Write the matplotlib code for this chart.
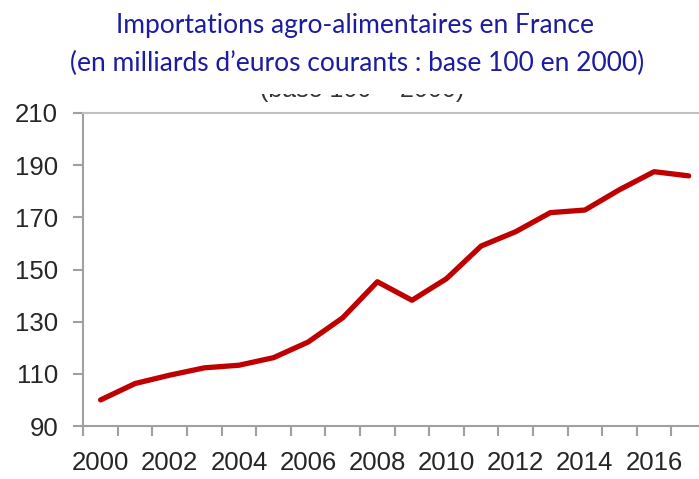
import matplotlib
matplotlib.use('Agg')
import matplotlib.pyplot as plt
from matplotlib.patches import Rectangle

# ---- data ----
years = list(range(2000, 2018))
values = [100, 106.3, 109.5, 112.3, 113.3, 116.2, 122.2, 131.5, 145.3, 138.2,
          146.5, 159.0, 164.5, 171.8, 172.8, 180.6, 187.5, 185.9]
y_ticks = [90, 110, 130, 150, 170, 190, 210]
x_label_years = list(range(2000, 2017, 2))
title_line1 = "Importations agro-alimentaires en France"
title_line2 = "(en milliards d\u2019euros courants : base 100 en 2000)"
hidden_subtitle = "(base 100 = 2000)"

# ---- figure ----
W, H = 699, 479
fig = plt.figure(figsize=(W / 100, H / 100), dpi=100)
fig.patch.set_facecolor('white')

left_px, right_px, top_px, bottom_px = 83.3, 706.0, 113.0, 426.0
ax = fig.add_axes([left_px / W, (H - bottom_px) / H,
                   (right_px - left_px) / W, (bottom_px - top_px) / H])

xpos = list(range(len(years)))
ax.plot(xpos, values, color='#C00000', lw=3.8, solid_joinstyle='round',
        solid_capstyle='round', zorder=3)

ax.set_xlim(-0.5, len(years) - 0.5)
ax.set_ylim(y_ticks[0], y_ticks[-1])

tick_font = ['Liberation Sans', 'DejaVu Sans']
axis_col = '#A0A0A0'
text_col = '#262626'

ax.set_yticks(y_ticks)
ax.set_yticklabels([str(v) for v in y_ticks], family=tick_font, fontsize=18.5,
                   color=text_col)
ax.tick_params(axis='y', which='major', direction='out', length=7.2, width=1.5,
               color=axis_col, pad=11)

label_pos = [years.index(y) for y in x_label_years]
ax.set_xticks(label_pos)
ax.set_xticklabels([str(y) for y in x_label_years], family=tick_font,
                   fontsize=18.5, color=text_col)
ax.set_xticks([i - 0.5 for i in range(len(years) + 1)], minor=True)
ax.tick_params(axis='x', which='major', length=0, pad=18)
ax.tick_params(axis='x', which='minor', direction='out', length=7.2, width=1.5,
               color=axis_col)

for side in ('left', 'bottom'):
    ax.spines[side].set_color(axis_col)
    ax.spines[side].set_linewidth(1.5)
ax.spines['top'].set_color('#C0C0C0')
ax.spines['top'].set_linewidth(1.5)
ax.spines['right'].set_visible(False)

# partially hidden original subtitle
fig.text(362 / W, 1 - 97 / H, hidden_subtitle, ha='center', va='baseline',
         family=tick_font, fontsize=18, color='#333333', zorder=1)
fig.add_artist(Rectangle((0, 1 - 94 / H), 1, 94 / H, transform=fig.transFigure,
                         facecolor='white', edgecolor='none', zorder=5))

# blue title
title_col = '#1C1CA3'
fig.text(355 / W, 1 - 33 / H, title_line1, ha='center', va='baseline',
         family=['Lato', 'DejaVu Sans'], fontsize=19, color=title_col, zorder=10)
fig.text(357 / W, 1 - 71 / H, title_line2, ha='center', va='baseline',
         family=['Lato', 'DejaVu Sans'], fontsize=19, color=title_col, zorder=10)

fig.savefig('out.png', dpi=100, facecolor='white')
